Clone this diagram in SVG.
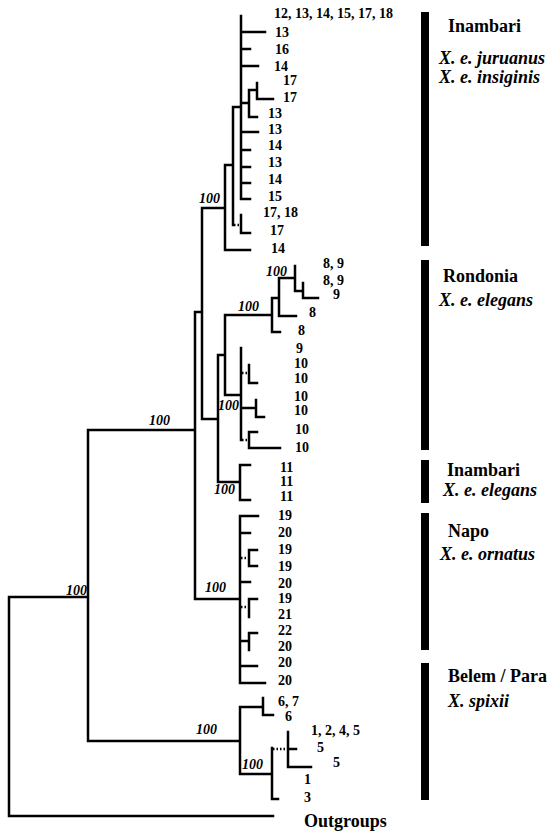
<svg xmlns="http://www.w3.org/2000/svg" width="550" height="831" viewBox="0 0 550 831">
<style>
.br{fill:none;stroke:#000;stroke-width:2.5;stroke-linecap:square}
.dt{fill:none;stroke:#000;stroke-width:2.5;stroke-dasharray:1.5 2}
.lf{font-family:"Liberation Serif","Times New Roman",serif;font-weight:bold;font-size:14px;fill:#000}
.bs{font-family:"Liberation Serif","Times New Roman",serif;font-weight:bold;font-style:italic;font-size:14px;fill:#000}
.hd{font-family:"Liberation Serif","Times New Roman",serif;font-weight:bold;font-size:18px;fill:#000}
.tx{font-family:"Liberation Serif","Times New Roman",serif;font-weight:bold;font-style:italic;font-size:18px;fill:#000}
.bar{fill:#000}
</style>
<rect width="550" height="831" fill="#fff"/>
<g id="connectors">
<path class="br" d="M9 597V816M9 597H88M9 816H273
M88 430V741M88 430H195M88 741H240
M195 312V599M195 312H202M195 599H240
M202 208V419M202 208H225M202 419H218
M225 165V250M225 165H233M225 250H250
M233 107V225M233 107H241
M241 16V199M241 32H265M241 49H250M241 66H258M241 103H249M241 132H258M241 150H250M241 167H250M241 183H250M241 199H250
M249 90V117M249 90H257M249 117H257
M257 83V99M257 99H273
M241 215V233M241 233H250
M218 355V482M218 355H225M218 482H240
M225 315V395M225 315H272M225 395H241
M272 298V332M272 298H279M272 332H280
M279 278V316M279 278H295M279 316H296
M295 266V291M295 291H303
M303 283V298M303 298H318
M241 348V440M249 365V383M249 383H257M241 408H256M256 400V417M256 417H264M249 432V448M249 432H257M249 448H280
M240 465V500M240 465H250M240 500H250
M240 516V683M240 516H258M240 533H250M249 550V566M249 550H257M249 566H257M240 582H250M249 599V617M249 599H257M240 641H249M249 633V650M249 633H257M240 666H257M240 683H265
M240 707V774M240 707H263M263 698V715M263 715H273M240 774H272M272 748V799M272 799H278M288 749H296M288 732V767M288 767H311"/>
<path class="dt" d="M234 225H240M242 373H248M242 440H248M241 558H248M241 607H248M273 749H287"/>
</g>
<g id="support">
<text class="bs" x="66" y="595">100</text>
<text class="bs" x="149" y="425">100</text>
<text class="bs" x="199" y="203">100</text>
<text class="bs" x="238" y="311">100</text>
<text class="bs" x="266" y="276">100</text>
<text class="bs" x="218" y="410">100</text>
<text class="bs" x="214" y="494">100</text>
<text class="bs" x="205" y="592">100</text>
<text class="bs" x="196" y="734">100</text>
<text class="bs" x="242" y="769">100</text>
</g>
<g id="inambari-leaves">
<text class="lf" x="274" y="18">12, 13, 14, 15, 17, 18</text>
<text class="lf" x="275" y="37">13</text>
<text class="lf" x="275" y="54">16</text>
<text class="lf" x="274" y="71">14</text>
<text class="lf" x="283" y="85">17</text>
<text class="lf" x="283" y="102">17</text>
<text class="lf" x="268" y="118">13</text>
<text class="lf" x="268" y="134">13</text>
<text class="lf" x="268" y="150">14</text>
<text class="lf" x="268" y="167">13</text>
<text class="lf" x="268" y="184">14</text>
<text class="lf" x="268" y="201">15</text>
<text class="lf" x="263" y="217">17, 18</text>
<text class="lf" x="270" y="235">17</text>
<text class="lf" x="271" y="253">14</text>
</g>
<g id="rondonia-leaves">
<text class="lf" x="323" y="268">8, 9</text>
<text class="lf" x="323" y="285">8, 9</text>
<text class="lf" x="333" y="299">9</text>
<text class="lf" x="309" y="317">8</text>
<text class="lf" x="298" y="335">8</text>
<text class="lf" x="296" y="353">9</text>
<text class="lf" x="294" y="368">10</text>
<text class="lf" x="294" y="383">10</text>
<text class="lf" x="294" y="401">10</text>
<text class="lf" x="294" y="415">10</text>
<text class="lf" x="295" y="434">10</text>
<text class="lf" x="295" y="452">10</text>
</g>
<g id="inambari2-leaves">
<text class="lf" x="280" y="472">11</text>
<text class="lf" x="280" y="486">11</text>
<text class="lf" x="280" y="501">11</text>
</g>
<g id="napo-leaves">
<text class="lf" x="278" y="520">19</text>
<text class="lf" x="278" y="537">20</text>
<text class="lf" x="278" y="554">19</text>
<text class="lf" x="278" y="571">19</text>
<text class="lf" x="278" y="588">20</text>
<text class="lf" x="278" y="603">19</text>
<text class="lf" x="278" y="619">21</text>
<text class="lf" x="278" y="635">22</text>
<text class="lf" x="278" y="651">20</text>
<text class="lf" x="278" y="667">20</text>
<text class="lf" x="278" y="685">20</text>
</g>
<g id="belem-leaves">
<text class="lf" x="278" y="706">6, 7</text>
<text class="lf" x="285" y="721">6</text>
<text class="lf" x="311" y="735">1, 2, 4, 5</text>
<text class="lf" x="317" y="752">5</text>
<text class="lf" x="333" y="767">5</text>
<text class="lf" x="304" y="784">1</text>
<text class="lf" x="304" y="802">3</text>
</g>
<g id="outgroups">
<text class="hd" x="304" y="827">Outgroups</text>
</g>
<g id="clade-inambari">
<rect class="bar" x="421" y="12" width="8" height="234"/>
<text class="hd" x="448" y="32">Inambari</text>
<text class="tx" x="439" y="64">X. e. juruanus</text>
<text class="tx" x="439" y="83">X. e. insiginis</text>
</g>
<g id="clade-rondonia">
<rect class="bar" x="421" y="260" width="8" height="190"/>
<text class="hd" x="443" y="282">Rondonia</text>
<text class="tx" x="439" y="306">X. e. elegans</text>
</g>
<g id="clade-inambari2">
<rect class="bar" x="421" y="460" width="8" height="43"/>
<text class="hd" x="447" y="476">Inambari</text>
<text class="tx" x="443" y="496">X. e. elegans</text>
</g>
<g id="clade-napo">
<rect class="bar" x="421" y="513" width="8" height="137"/>
<text class="hd" x="448" y="537">Napo</text>
<text class="tx" x="440" y="560">X. e. ornatus</text>
</g>
<g id="clade-belem">
<rect class="bar" x="421" y="663" width="8" height="137"/>
<text class="hd" x="448" y="682">Belem / Para</text>
<text class="tx" x="448" y="707">X. spixii</text>
</g>
</svg>
